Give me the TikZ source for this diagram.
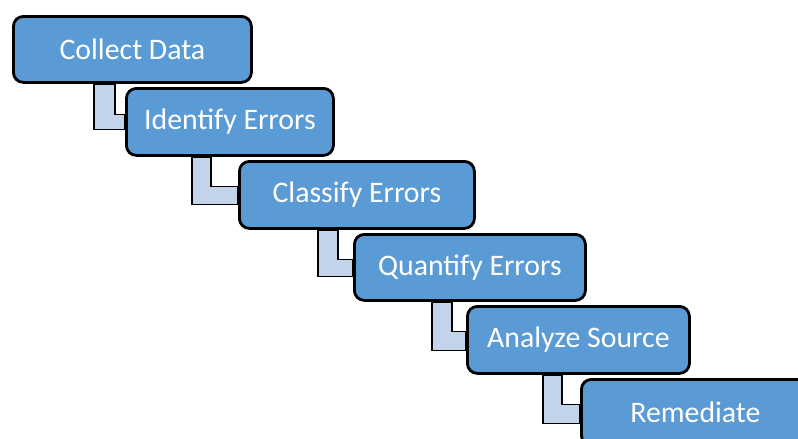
\documentclass[tikz,border=0pt]{standalone}
\usepackage{fontspec}
\setmainfont{Carlito}
\usetikzlibrary{calc,backgrounds}
\definecolor{boxblue}{HTML}{5B9BD5}
\definecolor{connblue}{HTML}{C3D3EA}
\begin{document}
\begin{tikzpicture}[x=1pt,y=-1pt,
  stepbox/.style={draw=black, line width=2.8pt, fill=boxblue, rounded corners=10pt,
    text=white, font=\fontsize{29.8}{35}\selectfont, inner sep=0pt, anchor=north west},
  conn/.style={draw=black, line width=1.8pt, fill=connblue, line join=miter}]
\clip (0,0) rectangle (798,439);
\node[stepbox, minimum width=238pt, minimum height=66pt] (s1) at (12,15) {Collect Data};
\node[stepbox, minimum width=207pt, minimum height=67pt] (s2) at (125,87) {Identify Errors};
\node[stepbox, minimum width=235pt, minimum height=67pt] (s3) at (238,160) {Classify Errors};
\node[stepbox, minimum width=231pt, minimum height=66pt] (s4) at (353,233) {Quantify Errors};
\node[stepbox, minimum width=222pt, minimum height=67pt] (s5) at (466,305) {Analyze Source};
\node[stepbox, minimum width=228pt, minimum height=66pt] (s6) at (580,378) {Remediate};
\begin{scope}[on background layer]
\fill[white] (0,0) rectangle (798,439);
\draw[conn] ($(s1.south west)+(82,0)$) |- ($(s2.west)+(0,7.5)$) -- ($(s2.west)+(0,-7.5)$) -| ($(s1.south west)+(103,0)$) -- cycle;
\draw[conn] ($(s2.south west)+(67,0)$) |- ($(s3.west)+(0,9.5)$) -- ($(s3.west)+(0,-8.5)$) -| ($(s2.south west)+(86,0)$) -- cycle;
\draw[conn] ($(s3.south west)+(80,0)$) |- ($(s4.west)+(0,9)$) -- ($(s4.west)+(0,-8)$) -| ($(s3.south west)+(100,0)$) -- cycle;
\draw[conn] ($(s4.south west)+(79,0)$) |- ($(s5.west)+(0,10.5)$) -- ($(s5.west)+(0,-8.5)$) -| ($(s4.south west)+(99,0)$) -- cycle;
\draw[conn] ($(s5.south west)+(77,0)$) |- ($(s6.west)+(0,11)$) -- ($(s6.west)+(0,-8)$) -| ($(s5.south west)+(96,0)$) -- cycle;
\end{scope}
\end{tikzpicture}
\end{document}
